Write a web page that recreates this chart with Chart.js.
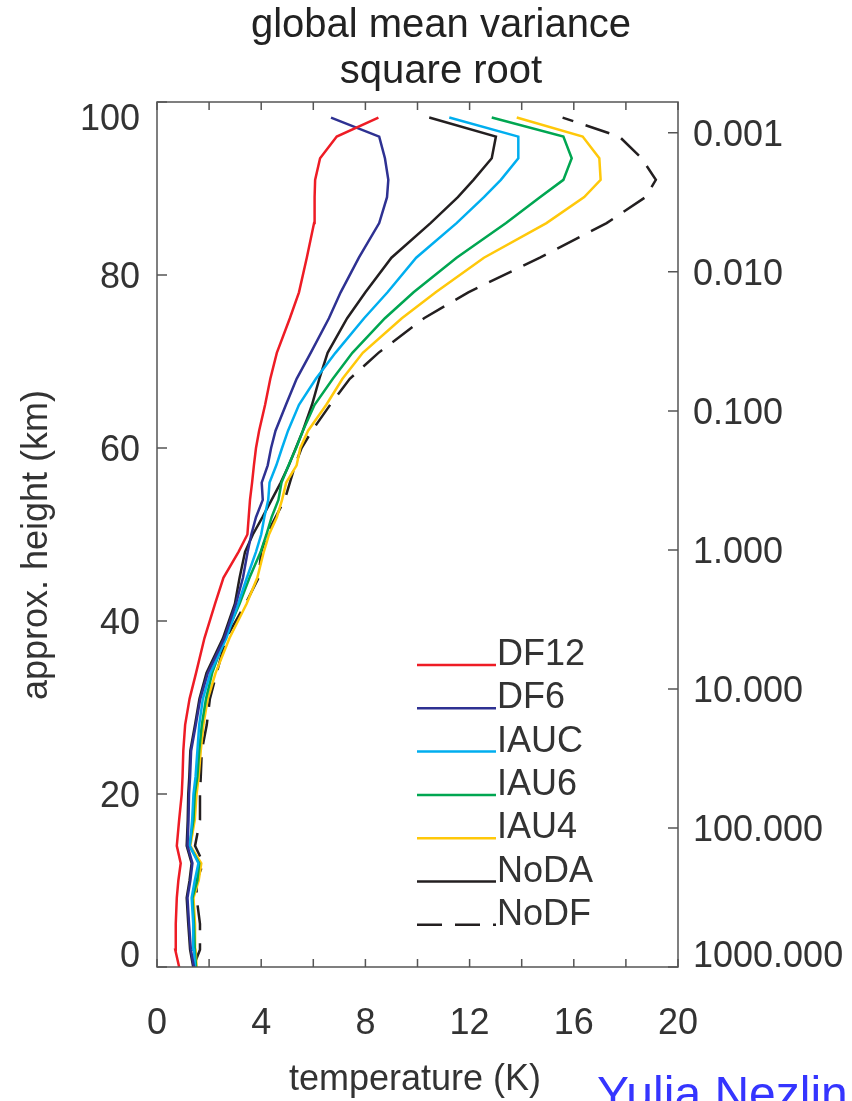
<!DOCTYPE html>
<html>
<head>
<meta charset="utf-8">
<script src="https://cdn.jsdelivr.net/npm/chart.js@4.4.1/dist/chart.umd.min.js"></script>
<style>
  html, body { margin: 0; padding: 0; background: #fff; }
  #wrap { width: 852px; height: 1101px; }
</style>
</head>
<body>
<div id="wrap"><canvas id="varChart" width="852" height="1101"></canvas></div>
<script>
// model levels (approx. height, km)
const heights = [0, 2, 5, 8, 10, 12, 14, 17, 20, 22, 25, 28, 31, 34, 38, 42, 45, 48, 50, 52,
  54, 56, 58, 60, 62, 65, 68, 71, 75, 78, 82, 86, 89, 91, 93.5, 96, 98.2];

// sqrt of global mean temperature variance (K)
const df12 = [0.85, 0.70, 0.72, 0.76, 0.82, 0.91, 0.76, 0.85, 0.95, 0.98, 1.01, 1.08, 1.25, 1.50, 1.82, 2.23, 2.55, 3.13, 3.47, 3.52,
  3.57, 3.65, 3.72, 3.80, 3.92, 4.15, 4.35, 4.60, 5.10, 5.45, 5.75, 6.03, 6.05, 6.07, 6.26, 6.90, 8.50];
const df6 = [1.42, 1.30, 1.23, 1.17, 1.28, 1.36, 1.17, 1.21, 1.23, 1.27, 1.31, 1.49, 1.66, 1.95, 2.58, 3.03, 3.30, 3.48, 3.62, 3.80,
  4.06, 4.02, 4.25, 4.38, 4.55, 4.95, 5.36, 5.90, 6.60, 7.05, 7.75, 8.53, 8.83, 8.88, 8.75, 8.53, 6.68];
const iauc = [1.46, 1.42, 1.39, 1.33, 1.45, 1.59, 1.26, 1.35, 1.40, 1.48, 1.55, 1.62, 1.76, 2.05, 2.66, 3.12, 3.45, 3.80, 4.00, 4.12,
  4.27, 4.32, 4.58, 4.80, 5.03, 5.45, 6.10, 6.85, 7.95, 8.85, 9.95, 11.50, 12.55, 13.20, 13.87, 13.87, 11.22];
const iau6 = [1.50, 1.45, 1.42, 1.36, 1.55, 1.62, 1.25, 1.40, 1.45, 1.55, 1.62, 1.72, 1.88, 2.12, 2.60, 3.17, 3.55, 3.98, 4.20, 4.40,
  4.66, 4.78, 5.05, 5.34, 5.60, 6.05, 6.75, 7.50, 8.75, 9.85, 11.50, 13.40, 14.70, 15.60, 15.92, 15.60, 12.85];
const iau4 = [1.52, 1.48, 1.46, 1.40, 1.60, 1.70, 1.28, 1.45, 1.52, 1.60, 1.68, 1.78, 1.95, 2.25, 2.78, 3.44, 3.85, 4.10, 4.30, 4.60,
  4.80, 4.96, 5.36, 5.50, 5.80, 6.50, 7.12, 7.90, 9.40, 10.70, 12.55, 14.95, 16.40, 17.03, 16.98, 16.34, 13.81];
const noda = [1.39, 1.27, 1.20, 1.14, 1.25, 1.33, 1.14, 1.18, 1.20, 1.24, 1.28, 1.46, 1.63, 1.90, 2.53, 2.99, 3.17, 3.38, 3.68, 4.05,
  4.40, 4.75, 5.06, 5.33, 5.60, 5.95, 6.23, 6.55, 7.30, 8.00, 9.00, 10.50, 11.55, 12.15, 12.85, 13.01, 10.45];
const nodf = [1.39, 1.65, 1.65, 1.52, 1.52, 1.78, 1.46, 1.65, 1.65, 1.68, 1.72, 1.91, 2.03, 2.29, 2.65, 3.40, 3.90, 4.00, 4.21, 4.55,
  4.90, 5.10, 5.30, 5.55, 5.95, 6.65, 7.40, 8.50, 10.25, 11.95, 14.70, 17.26, 18.75, 19.15, 18.60, 17.75, 15.57];

const tempTicks = [0, 4, 8, 12, 16, 20];
const heightTicks = [0, 20, 40, 60, 80, 100];
const pressureTicks = [0.001, 0.01, 0.1, 1, 10, 100, 1000];

// pressure axis: 1000 hPa at 0 km, ~16.13 km per decade
const kmPerDecade = 96.8 / 6;
const pTop = Math.pow(10, 3 - 100 / kmPerDecade);

const FONT = "'Liberation Sans', Arial, Helvetica, sans-serif";
const TXT = '#333333';

function pts(vals) {
  return heights.map((h, i) => ({ x: vals[i], y: h }));
}
function series(label, vals, color, dash) {
  return {
    label: label,
    data: pts(vals),
    borderColor: color,
    backgroundColor: color,
    borderWidth: 2.5,
    borderDash: dash || [],
    pointRadius: 0,
    showLine: true,
    tension: 0,
    fill: false
  };
}

// vertical axis labels are kept inside the frame at both ends
function sideLabels(ctx, scale, area, values, x, align, fmt) {
  ctx.textAlign = align;
  ctx.textBaseline = 'middle';
  values.forEach(v => {
    let y = scale.getPixelForValue(v) + 3;
    y = Math.min(Math.max(y, area.top + 18), area.bottom - 10);
    ctx.fillText(fmt(v), x, y);
  });
}

// frame, inward ticks, titles, legend
const decor = {
  id: 'decor',
  afterDatasetsDraw(chart) {
    const ctx = chart.ctx;
    const a = chart.chartArea;
    const sx = chart.scales.x, sy = chart.scales.y, sp = chart.scales.p;
    ctx.save();
    ctx.strokeStyle = '#555';
    ctx.lineWidth = 1.5;
    ctx.strokeRect(a.left, a.top, a.right - a.left, a.bottom - a.top);
    ctx.beginPath();
    for (let v = 0; v <= 20; v += 2) {
      const px = sx.getPixelForValue(v);
      ctx.moveTo(px, a.bottom); ctx.lineTo(px, a.bottom - 8);
      ctx.moveTo(px, a.top); ctx.lineTo(px, a.top + 8);
    }
    heightTicks.forEach(v => {
      const py = sy.getPixelForValue(v);
      ctx.moveTo(a.left, py); ctx.lineTo(a.left + 10, py);
    });
    pressureTicks.forEach(v => {
      const py = sp.getPixelForValue(v);
      ctx.moveTo(a.right, py); ctx.lineTo(a.right - 10, py);
    });
    ctx.stroke();
    ctx.restore();
  },
  afterDraw(chart) {
    const ctx = chart.ctx;
    const a = chart.chartArea;
    ctx.save();
    ctx.fillStyle = '#222';
    ctx.textAlign = 'center';
    ctx.textBaseline = 'alphabetic';
    ctx.font = '40px ' + FONT;
    ctx.fillText('global mean variance', 441, 37);
    ctx.fillText('square root', 441, 83);

    ctx.fillStyle = TXT;
    ctx.font = '36px ' + FONT;
    sideLabels(ctx, chart.scales.y, a, heightTicks, a.left - 17, 'right', v => String(v));
    sideLabels(ctx, chart.scales.p, a, pressureTicks, a.right + 15, 'left', v => v.toFixed(3));

    ctx.textAlign = 'center';
    ctx.textBaseline = 'alphabetic';
    ctx.fillText('temperature (K)', 415, 1090);

    ctx.save();
    ctx.translate(47, 545);
    ctx.rotate(-Math.PI / 2);
    ctx.fillText('approx. height (km)', 0, 0);
    ctx.restore();

    // legend
    const x0 = 417, x1 = 496, y0 = 665, step = 43.3;
    ctx.textAlign = 'left';
    chart.data.datasets.forEach((ds, i) => {
      const y = y0 + i * step;
      ctx.strokeStyle = ds.borderColor;
      ctx.lineWidth = 2.5;
      ctx.setLineDash(ds.borderDash || []);
      ctx.beginPath();
      ctx.moveTo(x0, y); ctx.lineTo(x1, y);
      ctx.stroke();
      ctx.setLineDash([]);
      ctx.fillStyle = TXT;
      ctx.fillText(ds.label, x1 + 1, y);
    });

    ctx.fillStyle = '#3535ff';
    ctx.font = '48px ' + FONT;
    ctx.fillText('Yulia Nezlin', 597, 1110);
    ctx.restore();
  }
};

new Chart(document.getElementById('varChart'), {
  type: 'scatter',
  data: {
    datasets: [
      series('DF12', df12, '#ee1c25'),
      series('DF6', df6, '#2e3192'),
      series('IAUC', iauc, '#00aeef'),
      series('IAU6', iau6, '#00a651'),
      series('IAU4', iau4, '#ffc80a'),
      series('NoDA', noda, '#231f20'),
      series('NoDF', nodf, '#231f20', [25, 13])
    ]
  },
  options: {
    responsive: false,
    animation: false,
    layout: { padding: { top: 102, left: 0, right: 0, bottom: 0 } },
    plugins: {
      legend: { display: false },
      tooltip: { enabled: false },
      title: { display: false }
    },
    scales: {
      x: {
        type: 'linear', position: 'bottom', min: 0, max: 20,
        afterBuildTicks: s => { s.ticks = tempTicks.map(v => ({ value: v })); },
        ticks: { padding: 35, color: TXT, font: { family: FONT, size: 36 }, maxRotation: 0, autoSkip: false },
        grid: { display: false, drawTicks: false },
        border: { display: false },
        afterFit: s => { s.height = 134; }
      },
      y: {
        type: 'linear', position: 'left', min: 0, max: 100,
        afterBuildTicks: s => { s.ticks = heightTicks.map(v => ({ value: v })); },
        ticks: { display: false },
        grid: { display: false, drawTicks: false },
        border: { display: false },
        afterFit: s => { s.width = 157; }
      },
      p: {
        type: 'logarithmic', position: 'right', reverse: true, min: pTop, max: 1000,
        afterBuildTicks: s => { s.ticks = pressureTicks.map(v => ({ value: v })); },
        ticks: { display: false },
        grid: { display: false, drawTicks: false },
        border: { display: false },
        afterFit: s => { s.width = 174; }
      }
    }
  },
  plugins: [decor]
});
</script>
</body>
</html>
